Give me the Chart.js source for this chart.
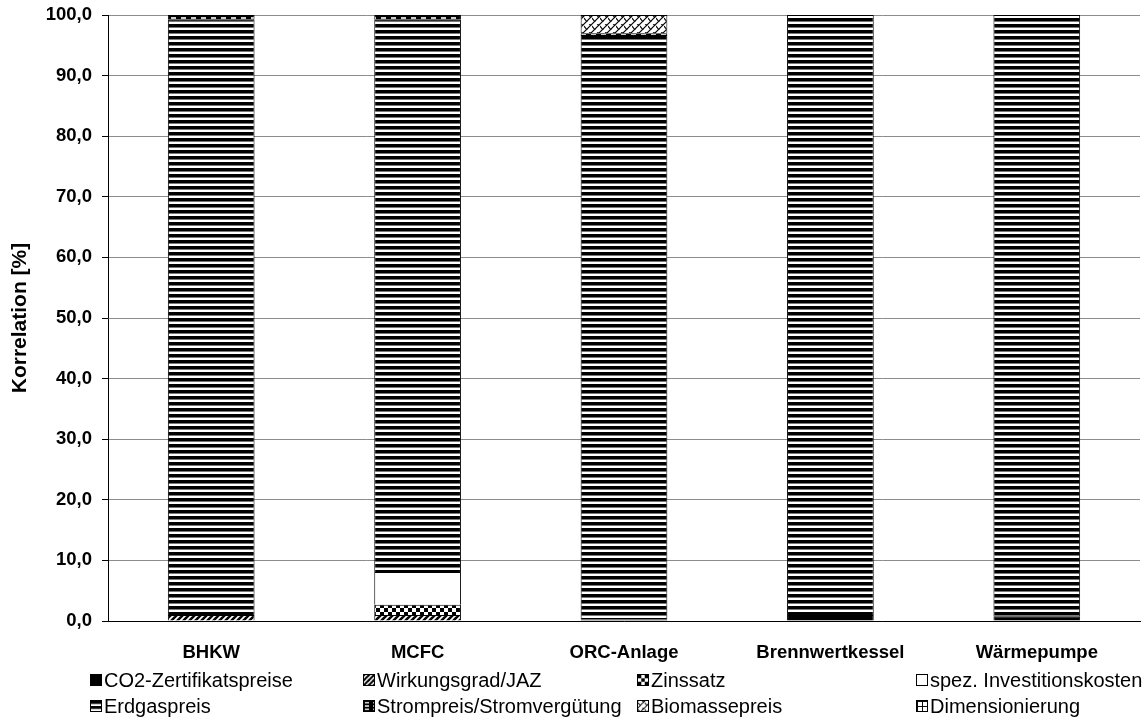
<!DOCTYPE html>
<html lang="de">
<head>
<meta charset="UTF-8">
<title>Korrelation</title>
<script src="https://cdn.jsdelivr.net/npm/chart.js"></script>
<style>
  body { margin: 0; background: #fff; font-family: "Liberation Sans", Arial, sans-serif; }
  .wrap { position: relative; width: 1145px; height: 720px; }
  .legend { position: absolute; left: 90px; top: 668px; width: 1055px; }
  .legend .item { position: absolute; display: flex; align-items: center; height: 24px; font-size: 20px; color: #000; white-space: nowrap; }
  .legend canvas { width: 12px; height: 12px; margin-right: 2px; border: 1px solid #000; box-sizing: border-box; }
</style>
</head>
<body>
<div class="wrap">
  <canvas id="chart" width="1145" height="720"></canvas>
  <div class="legend" id="legend"></div>
</div>
<script>
const categories = ['BHKW', 'MCFC', 'ORC-Anlage', 'Brennwertkessel', 'Wärmepumpe'];

const co2 = [0, 0, 0.3, 1.0, 0.8];
const wirkungsgrad = [1.0, 1.0, 0, 0, 0];
const zinssatz = [0, 1.7, 0, 0, 0];
const investition = [0, 5.4, 0, 0, 0];
const erdgas = [98.3, 91.1, 96.4, 99.0, 99.2];
const strompreis = [0.7, 0.8, 0.3, 0, 0];
const biomasse = [0, 0, 3.0, 0, 0];
const dimensionierung = [0, 0, 0, 0, 0];

const yTicks = [0, 10, 20, 30, 40, 50, 60, 70, 80, 90, 100];

// small canvas patterns, roughly like the excel fills
function makePattern(w, h, draw) {
    const c = document.createElement('canvas');
    c.width = w; c.height = h;
    const g = c.getContext('2d');
    g.fillStyle = '#fff';
    g.fillRect(0, 0, w, h);
    draw(g);
    return document.getElementById('chart').getContext('2d').createPattern(c, 'repeat');
}

const pSolid = '#000';
const pWirkung = makePattern(6, 6, g => {
    g.strokeStyle = '#000'; g.lineWidth = 2.5;
    g.beginPath(); g.moveTo(-1, 7); g.lineTo(7, -1); g.stroke();
    g.beginPath(); g.moveTo(5, 7); g.lineTo(7, 5); g.stroke();
    g.beginPath(); g.moveTo(-1, 1); g.lineTo(1, -1); g.stroke();
});
const pZins = makePattern(8, 8, g => {
    g.fillStyle = '#000';
    g.fillRect(0, 0, 4, 4);
    g.fillRect(4, 4, 4, 4);
});
const pWhite = '#fff';
const pErdgas = makePattern(4, 6, g => {
    g.fillStyle = '#000';
    g.fillRect(0, 0, 4, 3);
    g.fillStyle = '#777';
    g.fillRect(0, 3, 4, 1);
});
const pStrom = makePattern(10, 4, g => {
    g.fillStyle = '#000';
    g.fillRect(0, 0, 10, 4);
    g.fillStyle = '#ccc';
    g.fillRect(1, 1, 5, 2);
});
const pBiomasse = makePattern(8, 8, g => {
    g.strokeStyle = '#000'; g.lineWidth = 1.2;
    g.beginPath(); g.moveTo(0, 8); g.lineTo(8, 0); g.stroke();
    g.beginPath(); g.moveTo(-4, 4); g.lineTo(4, -4); g.stroke();
    g.beginPath(); g.moveTo(4, 12); g.lineTo(12, 4); g.stroke();
    g.beginPath(); g.moveTo(0, 2); g.lineTo(3, 6); g.stroke();
    g.beginPath(); g.moveTo(4, -2); g.lineTo(7, 2); g.stroke();
});
const pDimension = makePattern(6, 6, g => {
    g.fillStyle = '#000';
    g.fillRect(0, 0, 6, 1);
    g.fillRect(0, 0, 1, 6);
});

const series = [
    { label: 'CO2-Zertifikatspreise', data: co2, fill: pSolid },
    { label: 'Wirkungsgrad/JAZ', data: wirkungsgrad, fill: pWirkung },
    { label: 'Zinssatz', data: zinssatz, fill: pZins },
    { label: 'spez. Investitionskosten', data: investition, fill: pWhite },
    { label: 'Erdgaspreis', data: erdgas, fill: pErdgas },
    { label: 'Strompreis/Stromvergütung', data: strompreis, fill: pStrom },
    { label: 'Biomassepreis', data: biomasse, fill: pBiomasse },
    { label: 'Dimensionierung', data: dimensionierung, fill: pDimension }
];

const ctx = document.getElementById('chart').getContext('2d');
new Chart(ctx, {
    type: 'bar',
    data: {
        labels: categories,
        datasets: series.map(s => ({
            label: s.label,
            data: s.data.map(v => v || null),
            backgroundColor: s.fill,
            borderColor: '#000',
            borderWidth: 1,
            barPercentage: 0.42,
            categoryPercentage: 1.0
        }))
    },
    options: {
        responsive: false,
        animation: false,
        layout: { padding: { top: 15, right: 5, bottom: 54, left: 0 } },
        plugins: {
            legend: { display: false },
            tooltip: { enabled: false }
        },
        scales: {
            x: {
                stacked: true,
                grid: { display: false, drawTicks: false },
                border: { color: '#000', width: 1 },
                ticks: {
                    color: '#000',
                    font: { family: 'Liberation Sans', size: 18.5, weight: 'bold' },
                    padding: 21
                },
                afterFit: s => { s.height = 45; }
            },
            y: {
                stacked: true,
                min: 0,
                max: 100,
                afterBuildTicks: s => { s.ticks = yTicks.map(v => ({ value: v })); },
                grid: { color: '#8c8c8c', tickColor: '#000', tickLength: 6 },
                border: { color: '#000', width: 1 },
                ticks: {
                    color: '#000',
                    font: { family: 'Liberation Sans', size: 18.5, weight: 'bold' },
                    padding: 10,
                    callback: v => v.toFixed(1).replace('.', ',')
                },
                title: {
                    display: true,
                    text: 'Korrelation [%]',
                    color: '#000',
                    font: { family: 'Liberation Sans', size: 21, weight: 'bold' },
                    padding: { top: 8, bottom: 4 }
                },
                afterFit: s => {
                    s.width = 108;
                    s.paddingTop = 6;
                    s.paddingBottom = 0;
                }
            }
        }
    }
});

// legend: 4 columns x 2 rows like the original
const legendEl = document.getElementById('legend');
const colX = [0, 273, 547, 826];
series.forEach((s, i) => {
    const item = document.createElement('div');
    item.className = 'item';
    item.style.left = colX[i % 4] + 'px';
    item.style.top = (Math.floor(i / 4) * 26) + 'px';
    const sw = document.createElement('canvas');
    sw.width = 12; sw.height = 12;
    const g = sw.getContext('2d');
    g.fillStyle = s.fill;
    g.fillRect(0, 0, 12, 12);
    item.appendChild(sw);
    const t = document.createElement('span');
    t.textContent = s.label;
    item.appendChild(t);
    legendEl.appendChild(item);
});
</script>
</body>
</html>
